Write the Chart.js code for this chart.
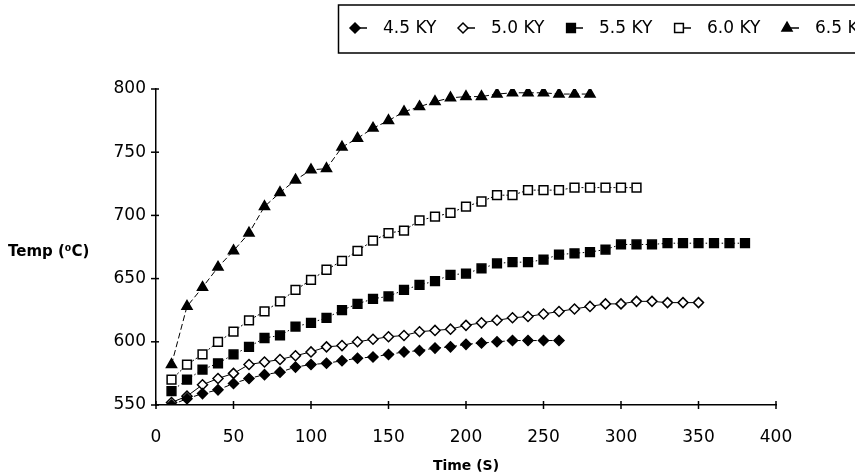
<!DOCTYPE html>
<html><head><meta charset="utf-8">
<script src="https://cdn.jsdelivr.net/npm/chart.js@4/dist/chart.umd.min.js"></script>
<style>html,body{margin:0;padding:0;background:#fff;}#wrap{width:855px;height:476px;position:relative;}</style>
</head><body><div id="wrap"><canvas id="c" width="855" height="476"></canvas></div>
<script>
// ---- data ----
const times = [10,20,30,40,50,60,70,80,90,100,110,120,130,140,150,160,170,180,190,200,
               210,220,230,240,250,260,270,280,290,300,310,320,330,340,350,360,370,380];
const seriesLabels = ['4.5 KY','5.0 KY','5.5 KY','6.0 KY','6.5 KY'];
const temp45 = [550,555,559,562,567,571,574,576,580,582,583,585,587,588,590,592,593,595,596,598,
                599,600,601,601,601,601];
const temp50 = [552,557,566,571,575,582,584,586,589,592,596,597,600,602,604,605,608,609,610,613,
                615,617,619,620,622,624,626,628,630,630,632,632,631,631,631];
const temp55 = [561,570,578,583,590,596,603,605,612,615,619,625,630,634,636,641,645,648,653,654,
                658,662,663,663,665,669,670,671,673,677,677,677,678,678,678,678,678,678];
const temp60 = [570,582,590,600,608,617,624,632,641,649,657,664,672,680,686,688,696,699,702,707,
                711,716,716,720,720,720,722,722,722,722,722];
const temp65 = [582,628,643,659,672,686,707,718,728,736,737,754,761,769,775,782,786,790,793,794,
                794,796,797,797,797,796,796,796];
const xTicks = [0,50,100,150,200,250,300,350,400];
const yTicks = [550,600,650,700,750,800];

const seriesValues = [temp45, temp50, temp55, temp60, temp65];
const styles = [
  {pointStyle:'rectRot', radius:5, fill:'#000', dash:[5,3]},
  {pointStyle:'rectRot', radius:5, fill:'#fff', dash:[]},
  {pointStyle:'rect', radius:6.2, fill:'#000', dash:[1.5,2.5]},
  {pointStyle:'rect', radius:6.2, fill:'#fff', dash:[2,2]},
  {pointStyle:'triangle', radius:5.8, fill:'#000', dash:[6,3]}
];

const datasets = seriesValues.map((vals, i) => ({
  label: seriesLabels[i],
  data: vals.map((v, k) => ({x: times[k], y: v})),
  borderColor: '#000',
  borderWidth: 1,
  borderDash: styles[i].dash,
  backgroundColor: styles[i].fill,
  pointBackgroundColor: styles[i].fill,
  pointBorderColor: '#000',
  pointBorderWidth: 1.5,
  pointStyle: styles[i].pointStyle,
  pointRadius: styles[i].radius,
  pointHoverRadius: styles[i].radius,
  tension: 0,
  fill: false
}));

const FONT = 'DejaVu Sans';

const decor = {
  id: 'decor',
  afterDraw(chart) {
    const ctx = chart.ctx;
    const xs = chart.scales.x, ys = chart.scales.y;
    ctx.save();
    ctx.strokeStyle = '#000';
    ctx.lineWidth = 1.5;
    ctx.setLineDash([]);
    // tick marks crossing the axes
    xTicks.forEach(v => {
      const px = xs.getPixelForValue(v);
      ctx.beginPath(); ctx.moveTo(px, ys.bottom - 4); ctx.lineTo(px, ys.bottom + 4); ctx.stroke();
    });
    yTicks.forEach(v => {
      const py = ys.getPixelForValue(v);
      ctx.beginPath(); ctx.moveTo(xs.left - 5, py); ctx.lineTo(xs.left + 3, py); ctx.stroke();
    });
    // y axis title (horizontal)
    ctx.fillStyle = '#000';
    ctx.font = 'bold 15px "' + FONT + '"';
    ctx.textAlign = 'left';
    ctx.textBaseline = 'middle';
    ctx.fillText('Temp (\u2070C)', 8, 252);
    // legend box
    const boxTop = 5, boxBottom = 53;
    ctx.lineWidth = 1.5;
    ctx.beginPath();
    ctx.moveTo(900, boxTop); ctx.lineTo(338.5, boxTop); ctx.lineTo(338.5, boxBottom); ctx.lineTo(900, boxBottom);
    ctx.stroke();
    const cy = 28;
    ctx.font = '17px "' + FONT + '"';
    seriesLabels.forEach((lab, i) => {
      const mx = 355 + i * 108;
      ctx.lineWidth = 1.5;
      ctx.beginPath(); ctx.moveTo(mx, cy); ctx.lineTo(mx + 12, cy); ctx.stroke();
      ctx.fillStyle = styles[i].fill;
      ctx.strokeStyle = '#000';
      Chart.helpers.drawPoint(ctx, {pointStyle: styles[i].pointStyle, radius: styles[i].radius, rotation: 0, borderWidth: 1.5}, mx, cy);
      ctx.fillStyle = '#000';
      ctx.fillText(lab, mx + 28, cy + 1);
    });
    ctx.restore();
  }
};

new Chart(document.getElementById('c'), {
  type: 'line',
  data: { datasets },
  options: {
    responsive: false,
    animation: false,
    events: [],
    layout: { padding: { top: 89, right: 79, left: 0, bottom: 0 } },
    plugins: { legend: { display: false }, tooltip: { enabled: false } },
    scales: {
      x: {
        type: 'linear', min: 0, max: 400,
        afterBuildTicks: s => { s.ticks = xTicks.map(v => ({ value: v })); },
        afterFit: s => { s.height = 71; },
        grid: { display: false, drawTicks: false },
        border: { color: '#000', width: 1.5 },
        ticks: { color: '#000', font: { family: FONT, size: 17 }, padding: 22, maxRotation: 0, autoSkip: false },
        title: { display: true, text: 'Time (S)', color: '#000', font: { family: FONT, size: 14, weight: 'bold' }, padding: { top: 0, bottom: 1 } }
      },
      y: {
        type: 'linear', min: 550, max: 800,
        afterBuildTicks: s => { s.ticks = yTicks.map(v => ({ value: v })); },
        afterFit: s => { s.width = 156; },
        grid: { display: false, drawTicks: false },
        border: { color: '#000', width: 1.5 },
        ticks: { color: '#000', font: { family: FONT, size: 17 }, padding: 10, autoSkip: false }
      }
    }
  },
  plugins: [decor]
});
</script>
</body></html>
